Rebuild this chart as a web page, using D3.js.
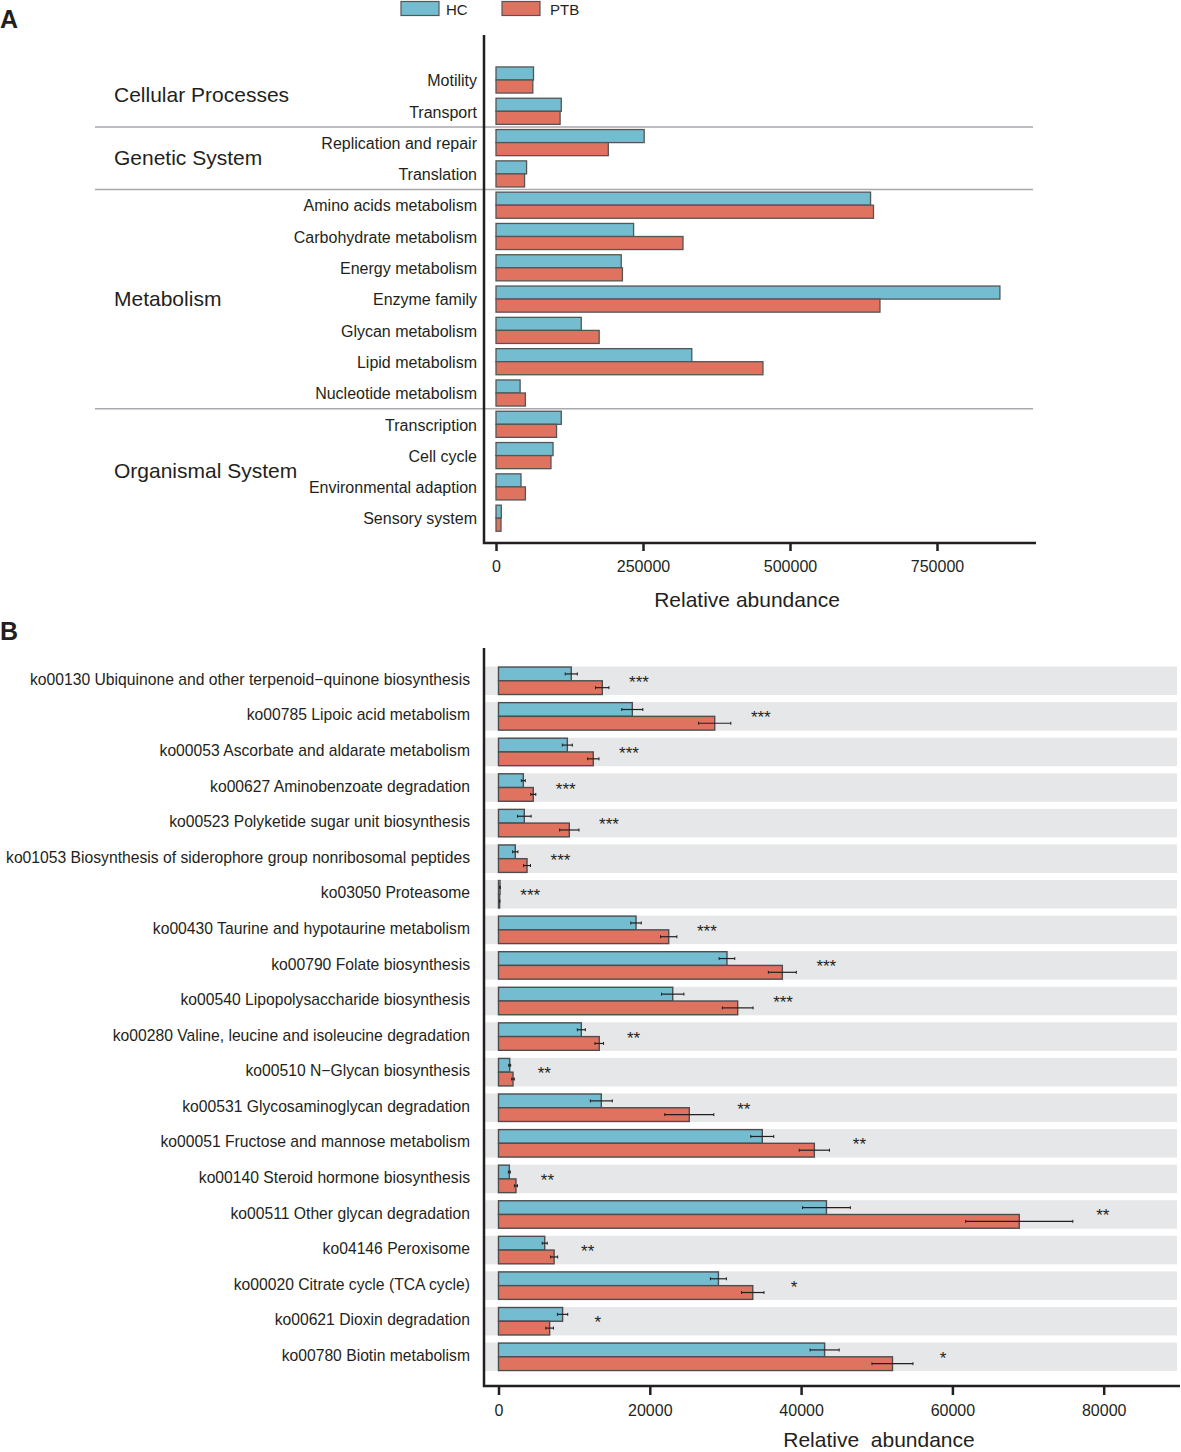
<!DOCTYPE html>
<html>
<head>
<meta charset="utf-8">
<script src="https://cdn.jsdelivr.net/npm/d3@7/dist/d3.min.js"></script>
<style>
body{margin:0;background:#fff}
svg text{font-family:"Liberation Sans",Arial,sans-serif;fill:#231f20}
</style>
</head>
<body>
<div class="chart"></div>
<script>
// panel A data
const pathways=["Motility","Transport","Replication and repair","Translation","Amino acids metabolism",
  "Carbohydrate metabolism","Energy metabolism","Enzyme family","Glycan metabolism","Lipid metabolism",
  "Nucleotide metabolism","Transcription","Cell cycle","Environmental adaption","Sensory system"]
const pathHC=[63800,111000,252000,52000,637000,234000,213000,857000,145000,333000,41000,111000,97000,42500,9000]
const pathPTB=[62600,109000,191000,48600,642000,318000,215000,653000,175500,454000,50000,103000,93500,50000,8500]
const groups=["Cellular Processes","Genetic System","Metabolism","Organismal System"]
const groupStart=[0,2,4,11]
const groupEnd=[1,3,10,14]
const ticksA=[0,250000,500000,750000]

// panel B data
const kos=["ko00130 Ubiquinone and other terpenoid\u2212quinone biosynthesis","ko00785 Lipoic acid metabolism",
  "ko00053 Ascorbate and aldarate metabolism","ko00627 Aminobenzoate degradation",
  "ko00523 Polyketide sugar unit biosynthesis","ko01053 Biosynthesis of siderophore group nonribosomal peptides",
  "ko03050 Proteasome","ko00430 Taurine and hypotaurine metabolism","ko00790 Folate biosynthesis",
  "ko00540 Lipopolysaccharide biosynthesis","ko00280 Valine, leucine and isoleucine degradation",
  "ko00510 N\u2212Glycan biosynthesis","ko00531 Glycosaminoglycan degradation",
  "ko00051 Fructose and mannose metabolism","ko00140 Steroid hormone biosynthesis",
  "ko00511 Other glycan degradation","ko04146 Peroxisome","ko00020 Citrate cycle (TCA cycle)",
  "ko00621 Dioxin degradation","ko00780 Biotin metabolism"]
const koHC=[9620,17690,9100,3280,3410,2220,200,18180,30200,23030,10950,1480,13590,34870,1430,43350,6110,29070,8470,43110]
const koHCerr=[800,1390,660,260,900,350,30,690,1035,1480,530,130,1450,1520,130,3160,330,1060,680,1920]
const koPTB=[13720,28580,12530,4600,9360,3770,150,22500,37520,31620,13320,1920,25220,41750,2310,68840,7350,33610,6760,52080]
const koPTBerr=[880,2130,750,330,1280,460,30,1080,1850,2030,570,170,3240,2000,200,7080,470,1480,500,2710]
const signif=["***","***","***","***","***","***","***","***","***","***","**","**","**","**","**","**","**","*","*","*"]
const ticksB=[0,20000,40000,60000,80000]

const series=["HC","PTB"]
const colour=d3.scaleOrdinal().domain(series).range(["#74bdd0","#e0735f"])

const svg=d3.select('.chart').append('svg')
  .attr('width',1181).attr('height',1452)

// panel letters
svg.append('text').attr('x',0).attr('y',28).attr('font-size',25).attr('font-weight','bold').text('A')
svg.append('text').attr('x',0).attr('y',640).attr('font-size',25).attr('font-weight','bold').text('B')

// legend
const leg=svg.append('g')
series.forEach((s,i)=>{
  const lx=401+i*101
  leg.append('rect').attr('x',lx).attr('y',1.5).attr('width',38).attr('height',14)
    .attr('fill',colour(s)).attr('stroke','#555').attr('stroke-width',1.2)
  leg.append('text').attr('x',lx+45+i*3).attr('y',15).attr('font-size',15).text(s)
})

// ---------- panel A ----------
const xA=d3.scaleLinear().domain([0,750000]).range([496,937])
const yA=d3.scaleBand().domain(pathways).range([64.35,533.85])
const yA2=d3.scaleBand().domain(series).range([2.6,yA.bandwidth()-2.6])

const gA=svg.append('g')

// group separators
groupEnd.slice(0,-1).forEach(e=>{
  const yy=yA(pathways[e])+yA.bandwidth()
  gA.append('line').attr('x1',95).attr('x2',1033).attr('y1',yy).attr('y2',yy)
    .attr('stroke','#a7a9ac').attr('stroke-width',1.5)
})

const rowsA=gA.selectAll('.rowA').data(pathways).enter().append('g')
  .attr('class','rowA').attr('transform',d=>`translate(0,${yA(d)})`)

rowsA.selectAll('rect').data((d,i)=>[{s:"HC",v:pathHC[i]},{s:"PTB",v:pathPTB[i]}])
  .enter().append('rect')
  .attr('x',xA(0)).attr('y',d=>yA2(d.s))
  .attr('width',d=>xA(d.v)-xA(0)).attr('height',yA2.bandwidth())
  .attr('fill',d=>colour(d.s)).attr('stroke','#555').attr('stroke-width',1.3)

rowsA.append('text').attr('x',477).attr('y',yA.bandwidth()/2+2)
  .attr('text-anchor','end').attr('dominant-baseline','middle').attr('font-size',16)
  .text(d=>d)

groups.forEach((g,i)=>{
  const y0=yA(pathways[groupStart[i]]),y1=yA(pathways[groupEnd[i]])+yA.bandwidth()
  gA.append('text').attr('x',114).attr('y',(y0+y1)/2+1).attr('dominant-baseline','middle')
    .attr('font-size',21).text(g)
})

const xAxisA=gA.append('g').attr('transform','translate(0,543)')
  .call(d3.axisBottom(xA).tickValues(ticksA).tickFormat(d3.format('d')).tickSize(8).tickPadding(10))
xAxisA.select('.domain').remove()
xAxisA.selectAll('.tick line').attr('stroke','#231f20').attr('stroke-width',2.5)
xAxisA.selectAll('.tick text').attr('font-size',16).attr('fill','#231f20')
  .style('font-family','"Liberation Sans",Arial,sans-serif')
gA.append('path').attr('d','M484,35V543H1036').attr('fill','none').attr('stroke','#231f20').attr('stroke-width',2.5)
gA.append('text').attr('x',747).attr('y',607).attr('text-anchor','middle').attr('font-size',21)
  .text('Relative abundance')

// ---------- panel B ----------
const xB=d3.scaleLinear().domain([0,80000]).range([498.5,1103.7])
const yB=d3.scaleBand().domain(kos).range([663,1374.6]).paddingInner(0.2).paddingOuter(0.1)
const yB2=d3.scaleBand().domain(series).range([0.5,yB.bandwidth()-0.5])

const gB=svg.append('g')
const rowsB=gB.selectAll('.rowB').data(kos).enter().append('g')
  .attr('class','rowB').attr('transform',d=>`translate(0,${yB(d)})`)

rowsB.append('rect').attr('x',484).attr('y',0).attr('width',693).attr('height',yB.bandwidth())
  .attr('fill','#e6e7e8')

const barData=(d,i)=>[{s:"HC",v:koHC[i],e:koHCerr[i]},{s:"PTB",v:koPTB[i],e:koPTBerr[i]}]

rowsB.selectAll('.bar').data(barData).enter().append('rect').attr('class','bar')
  .attr('x',xB(0)).attr('y',d=>yB2(d.s))
  .attr('width',d=>xB(d.v)-xB(0)).attr('height',yB2.bandwidth())
  .attr('fill',d=>colour(d.s)).attr('stroke','#4d4d4f').attr('stroke-width',1.4)

const err=rowsB.selectAll('.err').data(barData).enter().append('g').attr('class','err')
  .attr('transform',d=>`translate(0,${yB2(d.s)+yB2.bandwidth()/2})`)
err.append('line').attr('x1',d=>xB(d.v-d.e)).attr('x2',d=>xB(d.v+d.e))
  .attr('stroke','#231f20').attr('stroke-width',1.2)
err.append('line').attr('x1',d=>xB(d.v-d.e)).attr('x2',d=>xB(d.v-d.e)).attr('y1',-1.5).attr('y2',1.5)
  .attr('stroke','#231f20').attr('stroke-width',1)
err.append('line').attr('x1',d=>xB(d.v+d.e)).attr('x2',d=>xB(d.v+d.e)).attr('y1',-1.5).attr('y2',1.5)
  .attr('stroke','#231f20').attr('stroke-width',1)

rowsB.append('text')
  .attr('x',(d,i)=>xB(Math.max(koHC[i]+koHCerr[i],koPTB[i]+koPTBerr[i]))+30)
  .attr('y',yB.bandwidth()/2+7).attr('text-anchor','middle').attr('font-size',17)
  .attr('fill','#333').text((d,i)=>signif[i])

rowsB.append('text').attr('x',470).attr('y',yB.bandwidth()/2)
  .attr('text-anchor','end').attr('dominant-baseline','middle').attr('font-size',15.7)
  .text(d=>d)

const xAxisB=gB.append('g').attr('transform','translate(0,1386)')
  .call(d3.axisBottom(xB).tickValues(ticksB).tickFormat(d3.format('d')).tickSize(9).tickPadding(10))
xAxisB.select('.domain').remove()
xAxisB.selectAll('.tick line').attr('stroke','#231f20').attr('stroke-width',2.5)
xAxisB.selectAll('.tick text').attr('font-size',16).attr('fill','#231f20')
  .style('font-family','"Liberation Sans",Arial,sans-serif')
gB.append('path').attr('d','M484,648V1386H1180').attr('fill','none').attr('stroke','#231f20').attr('stroke-width',2.5)
gB.append('text').attr('x',879).attr('y',1447).attr('text-anchor','middle').attr('font-size',21)
  .attr('xml:space','preserve').style('white-space','pre').text('Relative  abundance')
</script>
</body>
</html>
